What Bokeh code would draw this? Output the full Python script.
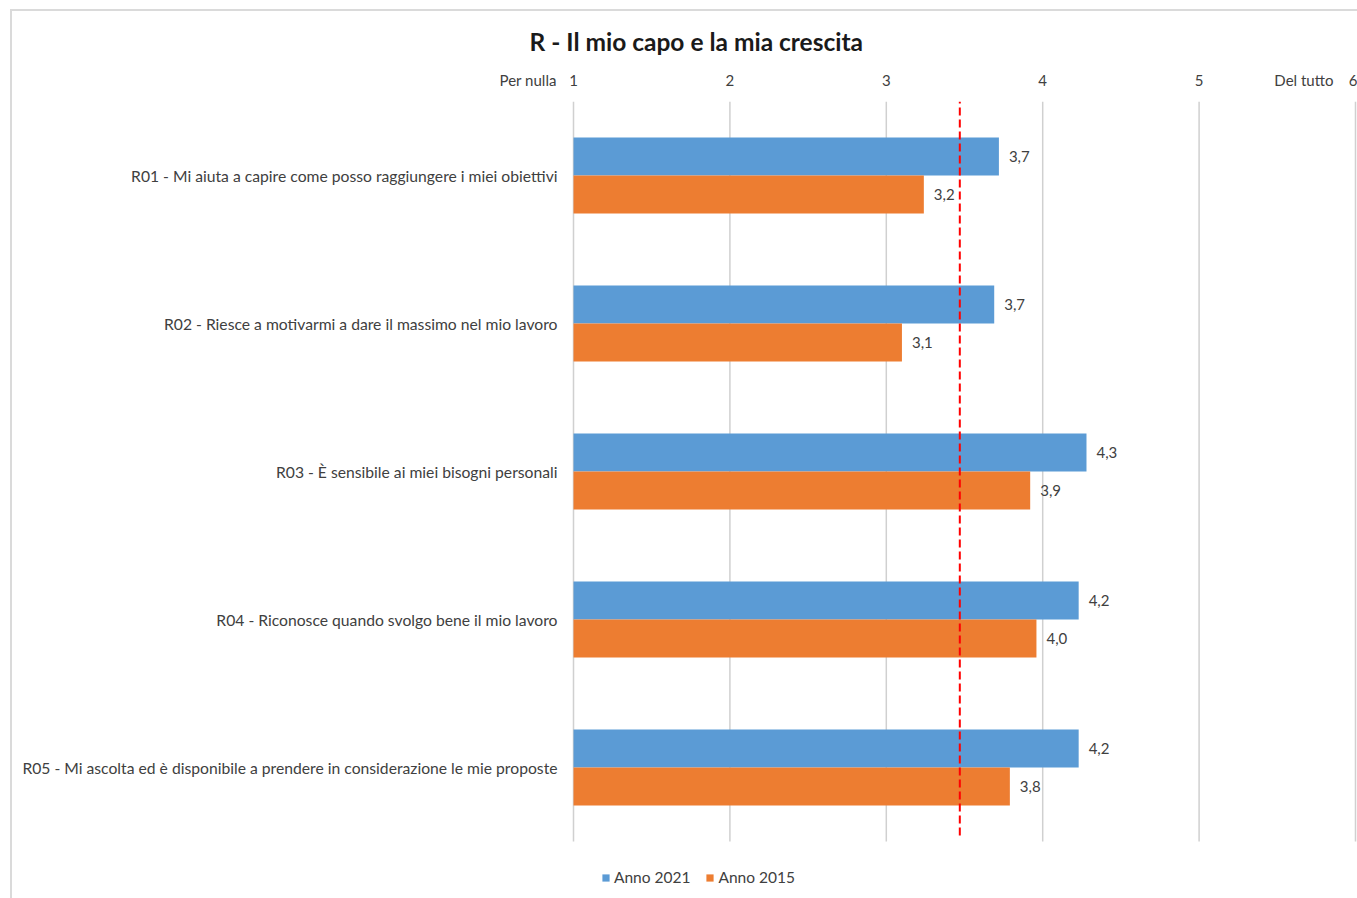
from bokeh.plotting import figure
from bokeh.models import (ColumnDataSource, Range1d, FixedTicker, LabelSet, Legend,
                          LegendItem, Title, LinearAxis)
from bokeh.transform import dodge
from bokeh.embed import file_html
from bokeh.resources import INLINE
from bokeh.core.properties import value

# ---- data ----
categories = [
    "R01 - Mi aiuta a capire come posso raggiungere i miei obiettivi",
    "R02 - Riesce a motivarmi a dare il massimo nel mio lavoro",
    "R03 - È sensibile ai miei bisogni personali",
    "R04 - Riconosce quando svolgo bene il mio lavoro",
    "R05 - Mi ascolta ed è disponibile a prendere in considerazione le mie proposte",
]
anno_2021 = [3.72, 3.69, 4.28, 4.23, 4.23]
anno_2015 = [3.24, 3.10, 3.92, 3.96, 3.79]
series_names = ["Anno 2021", "Anno 2015"]
x_ticks = [1, 2, 3, 4, 5, 6]
reference_value = 3.47
title_text = "R - Il mio capo e la mia crescita"
low_label = "Per nulla"
high_label = "Del tutto"

BLUE = "#5b9bd5"
ORANGE = "#ed7d31"
TEXT = "#404040"
FONT = "Lato"

def fmt(v):
    return f"{v:.1f}".replace(".", ",")

n = len(categories)
pos = [n - 1 - i for i in range(n)]  # first category at the top

src = ColumnDataSource(dict(
    cat=categories,
    pos=pos,
    a21=anno_2021,
    a15=anno_2015,
    l21=[fmt(v) for v in anno_2021],
    l15=[fmt(v) for v in anno_2015],
))

# ---- layout geometry (pixels) ----
W, H = 1357, 898
PX_PER_UNIT = 156.4
LEFT_PX = 573          # pixel where the value 1 sits
TOP_PX = 101           # top of plotting area
BAND_PX = 148          # height of one category band
x_start = x_ticks[0] - LEFT_PX / PX_PER_UNIT
x_end = x_ticks[0] + (W - LEFT_PX) / PX_PER_UNIT
y_end = n - 0.5
y_start = y_end - (H - TOP_PX) / BAND_PX

p = figure(width=W, height=H, output_backend="svg", toolbar_location=None,
           x_range=Range1d(x_start, x_end), y_range=Range1d(y_start, y_end),
           x_axis_location=None, y_axis_location=None,
           min_border_left=0, min_border_right=0, min_border_top=TOP_PX, min_border_bottom=0)

p.outline_line_color = None
p.background_fill_color = None
p.border_fill_color = None
p.styles = {
    "background-color": "white",
    "background-image": "linear-gradient(#dadada, #dadada), linear-gradient(#dadada, #dadada)",
    "background-size": "2px 100%, 100% 2px",
    "background-position": "10px 9px, 10px 9px",
    "background-repeat": "no-repeat",
}
p.xgrid.grid_line_color = None
p.ygrid.grid_line_color = None

# vertical grid lines over the category area
p.segment(x0=x_ticks, x1=x_ticks, y0=-0.5, y1=n - 0.5, line_color="#d0d0d0", line_width=1.5)

bh = 0.257
r21 = p.hbar(y=dodge("pos", bh / 2), left=x_ticks[0], right="a21", height=bh,
             source=src, fill_color=BLUE, line_color=None)
r15 = p.hbar(y=dodge("pos", -bh / 2), left=x_ticks[0], right="a15", height=bh,
             source=src, fill_color=ORANGE, line_color=None)

# value labels
for col, lab, off in (("a21", "l21", bh / 2), ("a15", "l15", -bh / 2)):
    p.add_layout(LabelSet(x=col, y=dodge("pos", off), text=lab, source=src,
                          x_offset=10, text_baseline="middle", text_font=value(FONT),
                          text_font_size="15px", text_color=TEXT))

# category labels
p.add_layout(LabelSet(x=value(x_ticks[0]), y="pos", text="cat", source=src,
                      x_offset=-16, text_align="right", text_baseline="middle",
                      text_font=value(FONT), text_font_size="15.7px", text_color=TEXT))

# reference line
p.segment(x0=[reference_value], x1=[reference_value], y0=[-0.46], y1=[n - 0.5],
          line_color="#ff0000", line_width=2, line_dash="8 4")

# top axis with scale labels
low_pos, high_pos = 0.71, 5.67
top_axis = LinearAxis(ticker=FixedTicker(ticks=[low_pos] + x_ticks[:-1] + [high_pos, x_ticks[-1]]))
overrides = {t: str(t) for t in x_ticks}
overrides[low_pos] = low_label
overrides[high_pos] = high_label
top_axis.major_label_overrides = overrides
top_axis.axis_line_color = None
top_axis.major_tick_line_color = None
top_axis.minor_tick_line_color = None
top_axis.major_label_standoff = 7
top_axis.major_label_text_font = FONT
top_axis.major_label_text_font_size = "15px"
top_axis.major_label_text_color = TEXT
p.add_layout(top_axis, "above")

# title
p.add_layout(Title(text=title_text, align="left", offset=529, standoff=23,
                   text_font=FONT, text_font_size="24.5px", text_font_style="bold",
                   text_color="#1a1a1a"), "above")

legend = Legend(items=[LegendItem(label=series_names[0], renderers=[r21]),
                       LegendItem(label=series_names[1], renderers=[r15])],
                orientation="horizontal", location=(601, 12),
                glyph_width=9, glyph_height=9, label_standoff=4, spacing=15,
                padding=0, margin=0, border_line_color=None, background_fill_alpha=0,
                label_text_font=FONT, label_text_font_size="15.5px", label_text_color=TEXT)
p.add_layout(legend)

open("out.html", "w").write(file_html(p, INLINE))
